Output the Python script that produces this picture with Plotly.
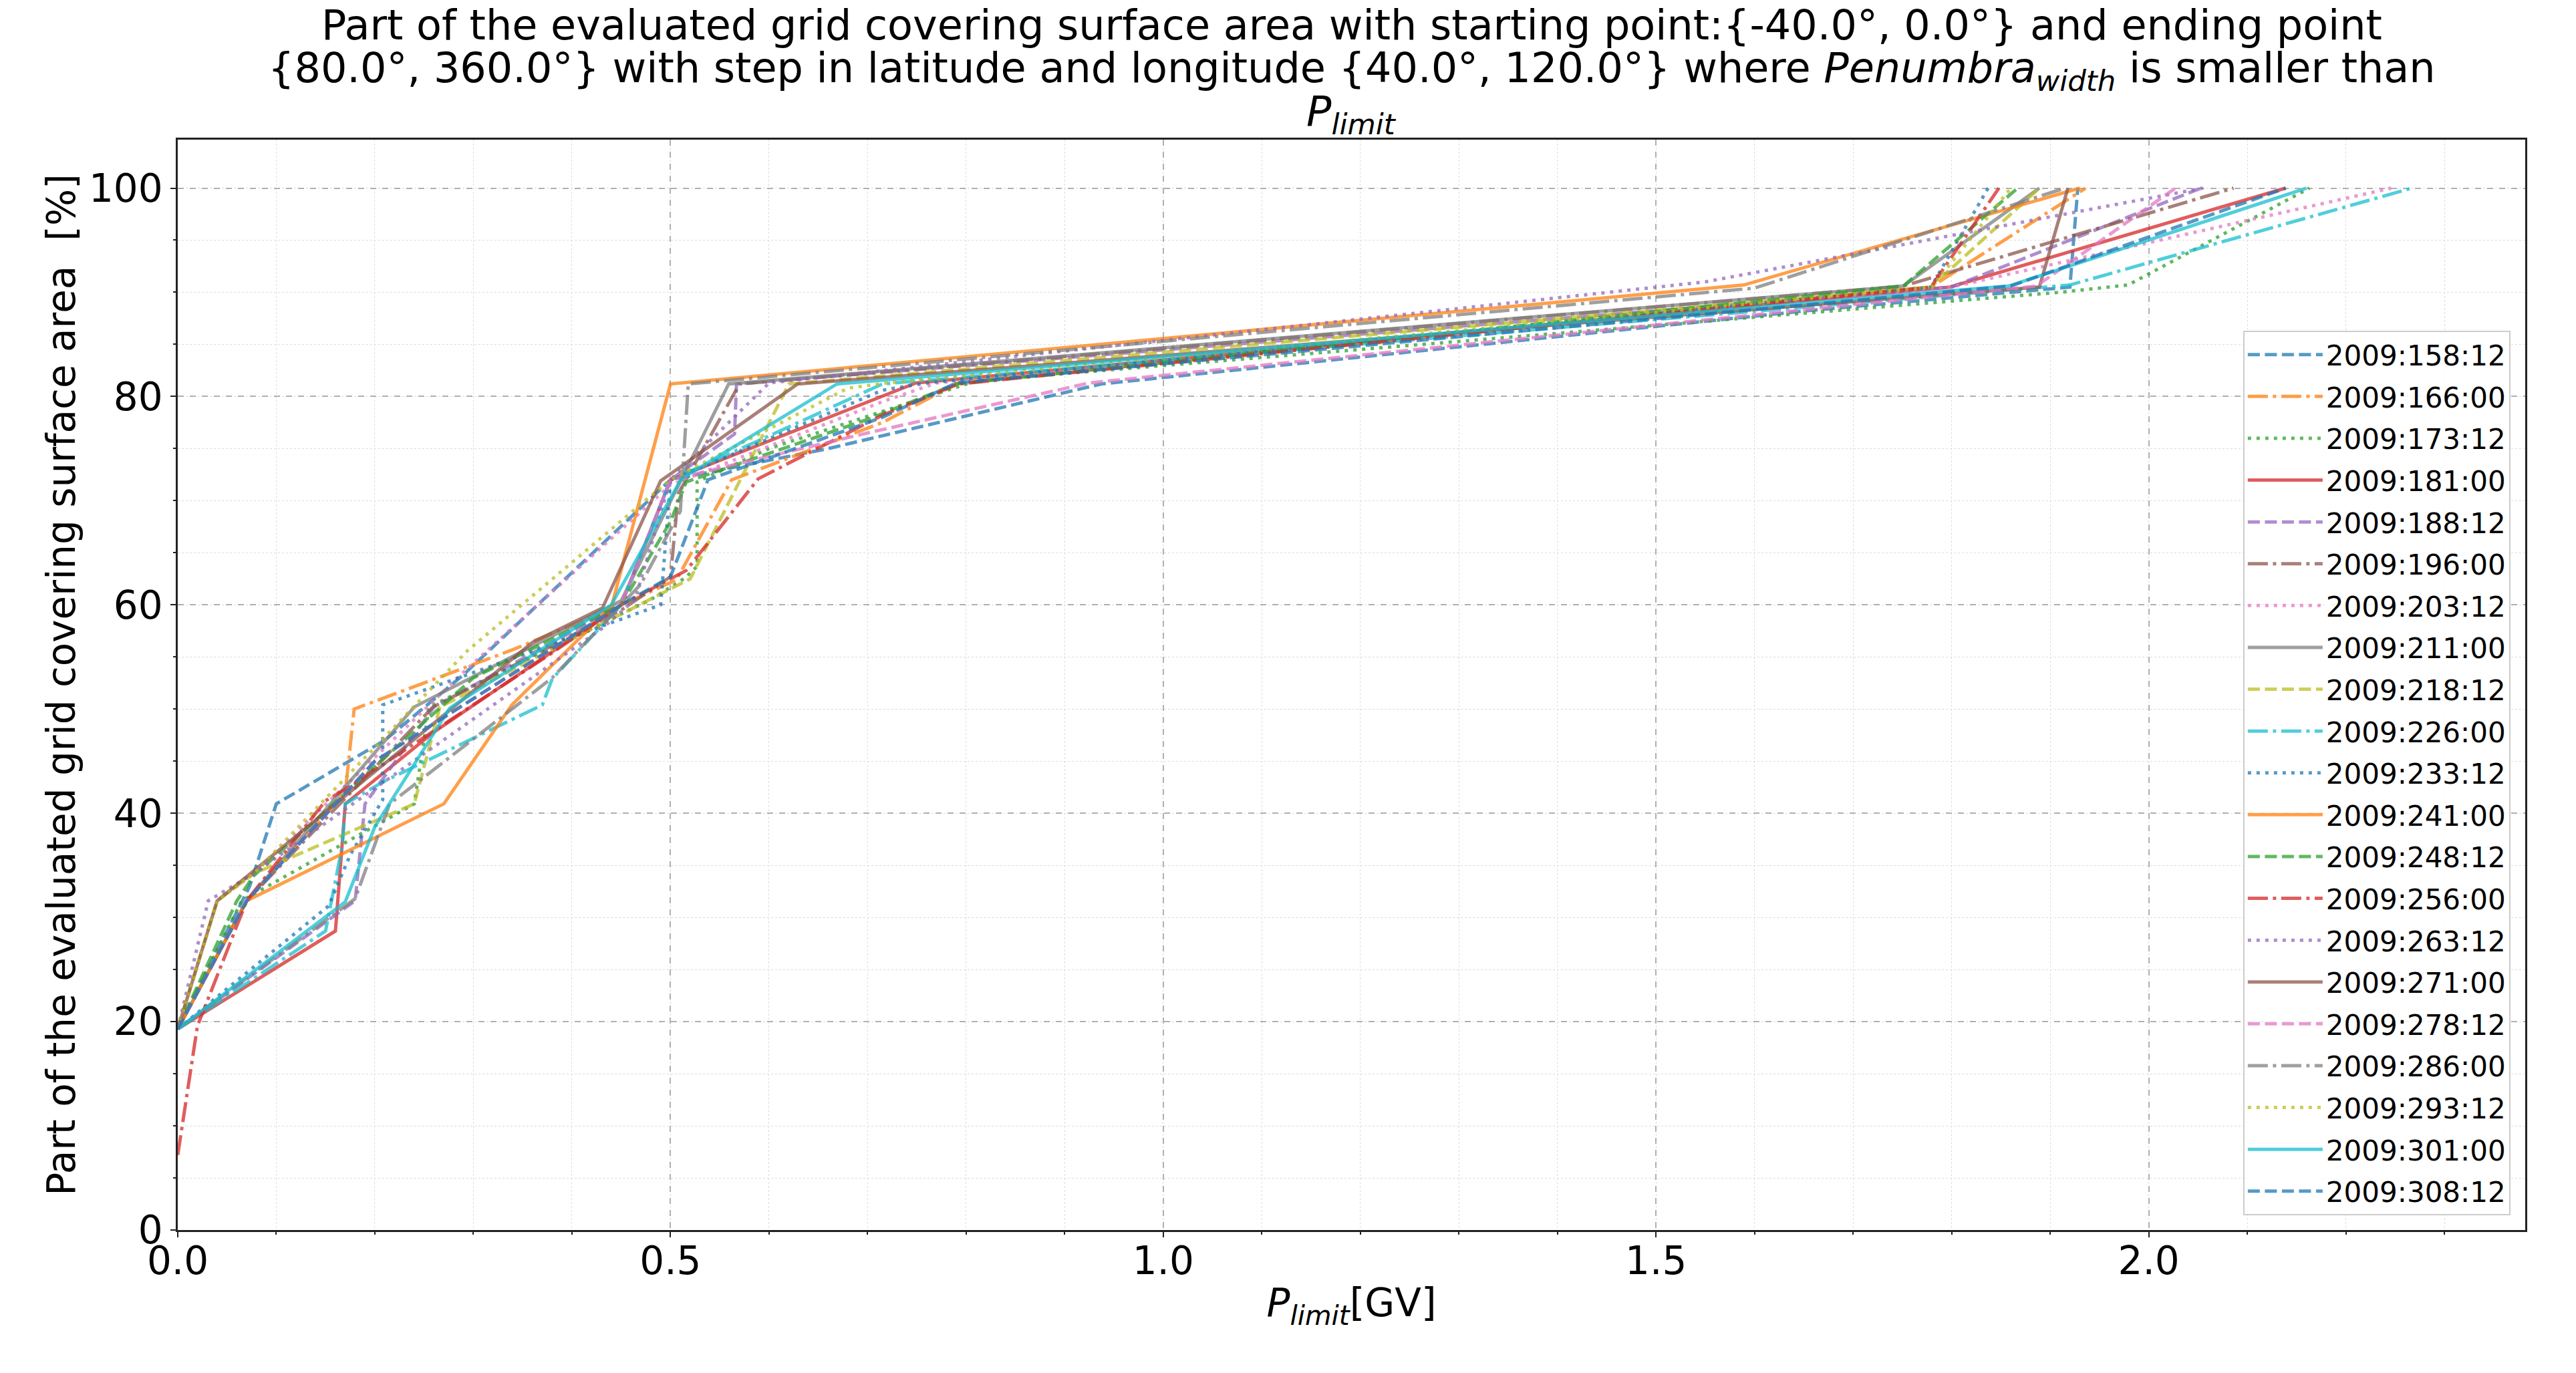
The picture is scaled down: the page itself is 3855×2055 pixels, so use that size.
import plotly.graph_objects as go

# ---------------- data (P_limit [GV] vs. part of grid [%]) ----------------
labels = ["2009:158:12", "2009:166:00", "2009:173:12", "2009:181:00", "2009:188:12",
          "2009:196:00", "2009:203:12", "2009:211:00", "2009:218:12", "2009:226:00",
          "2009:233:12", "2009:241:00", "2009:248:12", "2009:256:00", "2009:263:12",
          "2009:271:00", "2009:278:12", "2009:286:00", "2009:293:12", "2009:301:00",
          "2009:308:12"]

p_158_12 = [0, 0.073, 0.10, 0.175, 0.21, 0.29, 0.46, 0.50, 0.66, 0.937, 1.65, 1.92, 1.928]
v_158_12 = [19.3, 33.0, 40.9, 45.0, 47.0, 53.3, 68.4, 72.0, 75.0, 81.2, 88.2, 90.5, 100]

p_166_00 = [0, 0.07, 0.17, 0.179, 0.34, 0.45, 0.506, 0.562, 0.715, 0.792, 1.779, 1.936]
v_166_00 = [19.3, 31.6, 42.0, 50.0, 55.7, 60.0, 62.4, 72.0, 77.5, 81.3, 90.5, 100]

p_173_12 = [0, 0.065, 0.24, 0.255, 0.48, 0.515, 0.527, 0.527, 0.60, 0.81, 1.91, 1.979, 2.163]
v_173_12 = [19.3, 31.6, 40.9, 50.2, 60.5, 62.6, 63.7, 71.8, 75.0, 81.5, 90.0, 90.7, 100]

p_181_00 = [0, 0.16, 0.17, 0.26, 0.45, 0.50, 0.749, 1.798, 2.139]
v_181_00 = [19.3, 28.7, 40.9, 47.8, 60.0, 72.0, 81.3, 90.5, 100]

p_188_12 = [0, 0.18, 0.19, 0.26, 0.45, 0.50, 0.565, 0.567, 1.80, 2.053]
v_188_12 = [19.3, 31.6, 40.9, 50.2, 60.0, 72.0, 76.4, 81.2, 90.5, 100]

p_196_00 = [0, 0.07, 0.259, 0.45, 0.50, 0.508, 0.57, 1.751, 2.086]
v_196_00 = [19.3, 31.6, 50.2, 59.5, 62.7, 70.7, 81.2, 90.6, 100]

p_203_12 = [0, 0.04, 0.077, 0.294, 0.50, 0.715, 0.77, 1.80, 2.246]
v_203_12 = [19.3, 31.6, 34.2, 53.9, 71.5, 79.5, 81.3, 90.5, 100]

p_211_00 = [0, 0.07, 0.24, 0.45, 0.559, 1.751, 1.889]
v_211_00 = [19.3, 31.6, 50.2, 60.4, 81.2, 90.6, 100]

p_218_12 = [0, 0.04, 0.077, 0.24, 0.266, 0.52, 0.62, 1.779, 1.889]
v_218_12 = [19.3, 31.6, 34.2, 40.9, 50.2, 62.5, 81.2, 90.5, 100]

p_226_00 = [0, 0.15, 0.167, 0.17, 0.208, 0.281, 0.37, 0.38, 0.45, 0.50, 0.595, 0.715, 1.92, 2.267]
v_226_00 = [19.3, 28.7, 36.9, 40.9, 43.0, 46.3, 50.4, 52.9, 60.0, 72.0, 76.0, 81.2, 90.7, 100]

p_233_12 = [0, 0.153, 0.175, 0.208, 0.208, 0.30, 0.49, 0.50, 0.715, 0.76, 1.779, 1.837]
v_233_12 = [19.3, 31.1, 36.0, 41.3, 50.4, 53.5, 60.0, 71.9, 80.6, 81.3, 90.5, 100]

p_241_00 = [0, 0.07, 0.27, 0.339, 0.44, 0.50, 1.589, 1.93]
v_241_00 = [19.3, 31.6, 40.9, 50.4, 59.8, 81.2, 90.7, 100]

p_248_12 = [0, 0.06, 0.077, 0.30, 0.45, 0.50, 0.516, 0.70, 0.79, 1.751, 1.867]
v_248_12 = [19.3, 31.6, 34.0, 53.0, 60.0, 68.0, 71.8, 77.8, 81.2, 90.6, 100]

p_256_00 = [0, 0.02, 0.07, 0.15, 0.17, 0.38, 0.45, 0.516, 0.589, 0.715, 0.792, 1.779, 1.848]
v_256_00 = [7.2, 19.6, 31.6, 41.2, 42.3, 55.4, 60.0, 63.3, 72.1, 78.2, 81.2, 90.5, 100]

p_263_12 = [0, 0.031, 0.077, 0.43, 0.464, 0.50, 0.60, 1.55, 2.055]
v_263_12 = [19.3, 31.6, 34.2, 57.7, 60.5, 72.0, 81.3, 91.0, 100]

p_271_00 = [0, 0.04, 0.36, 0.431, 0.49, 0.629, 1.889, 1.918]
v_271_00 = [19.3, 31.6, 56.4, 59.7, 71.9, 81.2, 90.5, 100]

p_278_12 = [0, 0.07, 0.20, 0.45, 0.50, 0.70, 0.925, 1.886, 2.027]
v_278_12 = [19.3, 31.6, 45.0, 60.0, 72.0, 76.5, 81.3, 90.6, 100]

p_286_00 = [0, 0.18, 0.215, 0.38, 0.47, 0.51, 0.518, 1.60, 1.915]
v_286_00 = [19.3, 31.8, 40.9, 53.0, 62.0, 69.0, 81.2, 90.4, 100]

p_293_12 = [0, 0.04, 0.077, 0.294, 0.478, 0.50, 0.68, 0.72, 1.78, 1.86]
v_293_12 = [19.3, 31.6, 34.2, 55.6, 70.3, 72.0, 80.8, 81.3, 90.5, 100]

p_301_00 = [0, 0.17, 0.20, 0.276, 0.38, 0.44, 0.511, 0.669, 1.858, 2.16]
v_301_00 = [19.3, 31.5, 38.7, 50.1, 56.4, 60.0, 72.1, 81.2, 90.6, 100]

p_308_12 = [0, 0.07, 0.20, 0.45, 0.50, 0.538, 0.715, 0.79, 1.86, 2.139]
v_308_12 = [19.3, 31.6, 45.0, 60.0, 62.7, 72.0, 78.0, 81.3, 90.6, 100]

x_ticks = [0.0, 0.5, 1.0, 1.5, 2.0]
y_ticks = [0, 20, 40, 60, 80, 100]

title_lines = [
    "Part of the evaluated grid covering surface area with starting point:{-40.0°, 0.0°} and ending point",
    "{80.0°, 360.0°} with step in latitude and longitude {40.0°, 120.0°} where "
    "<i>Penumbra</i><sub><i>width</i></sub> is smaller than",
    "<i>P</i><sub><i>limit</i></sub>",
]

# ---------------- styling ----------------
series_x = [p_158_12, p_166_00, p_173_12, p_181_00, p_188_12, p_196_00, p_203_12,
            p_211_00, p_218_12, p_226_00, p_233_12, p_241_00, p_248_12, p_256_00,
            p_263_12, p_271_00, p_278_12, p_286_00, p_293_12, p_301_00, p_308_12]
series_y = [v_158_12, v_166_00, v_173_12, v_181_00, v_188_12, v_196_00, v_203_12,
            v_211_00, v_218_12, v_226_00, v_233_12, v_241_00, v_248_12, v_256_00,
            v_263_12, v_271_00, v_278_12, v_286_00, v_293_12, v_301_00, v_308_12]

tab10 = ["#1f77b4", "#ff7f0e", "#2ca02c", "#d62728", "#9467bd",
         "#8c564b", "#e377c2", "#7f7f7f", "#bcbd22", "#17becf"]
dashes = ["18px,7.5px", "30px,7.5px,5px,7.5px", "5px,8px", "solid"]

FONT = "DejaVu Sans"

fig = go.Figure()
for i, (lab, xs, ys) in enumerate(zip(labels, series_x, series_y)):
    fig.add_trace(go.Scatter(
        x=xs, y=ys, mode="lines", name=lab, legendgroup=lab,
        line=dict(color=tab10[i % 10], width=5, dash=dashes[i % 4]),
        opacity=0.75,
    ))

# three title lines (placed above the plot area, paper coordinates)
title_y = [1.105, 1.0635, 1.0235]
for txt, ty in zip(title_lines, title_y):
    fig.add_annotation(text=txt, x=0.5, y=ty, xref="paper", yref="paper",
                       xanchor="center", yanchor="middle", showarrow=False,
                       font=dict(family=FONT, size=62, color="black"))

axis_common = dict(
    showline=True, linecolor="#222222", linewidth=2.5, mirror=True,
    ticks="outside", ticklen=8, tickwidth=2, tickcolor="#222222",
    showgrid=True, gridcolor="#b0b0b0", griddash="dash", gridwidth=1.6,
    zeroline=False, tickfont=dict(family=FONT, size=58, color="black"),
)

fig.update_layout(
    width=3855, height=2055,
    paper_bgcolor="white", plot_bgcolor="white",
    margin=dict(l=266, r=76, t=209, b=214),
    font=dict(family=FONT, color="black"),
    xaxis=dict(range=[0, 2.382], tickvals=x_ticks, tickformat=".1f",
               ticklabelstandoff=-14,
               minor=dict(dtick=0.1, tick0=0, ticks="outside", ticklen=4, tickwidth=1.5,
                          tickcolor="#222222", showgrid=True, gridcolor="#dcdcdc",
                          griddash="dot", gridwidth=1.4),
               title=dict(text="<i>P</i><sub><i>limit</i></sub>[GV]", standoff=10,
                          font=dict(family=FONT, size=58, color="black")),
               **axis_common),
    yaxis=dict(range=[0, 104.65], tickvals=y_ticks,
               minor=dict(dtick=5, tick0=0, ticks="outside", ticklen=4, tickwidth=1.5,
                          tickcolor="#222222", showgrid=True, gridcolor="#dcdcdc",
                          griddash="dot", gridwidth=1.4),
               title=dict(text="Part of the evaluated grid covering surface area \u00a0[%]", standoff=2,
                          font=dict(family=FONT, size=58, color="black")),
               **axis_common),
    legend=dict(x=0.9937, y=0.0135, xanchor="right", yanchor="bottom",
                bgcolor="rgba(255,255,255,0.85)", bordercolor="#cccccc", borderwidth=2,
                font=dict(family=FONT, size=42, color="black"),
                traceorder="grouped", tracegroupgap=5, itemwidth=112),
    showlegend=True,
)

fig.write_html("out.html")
